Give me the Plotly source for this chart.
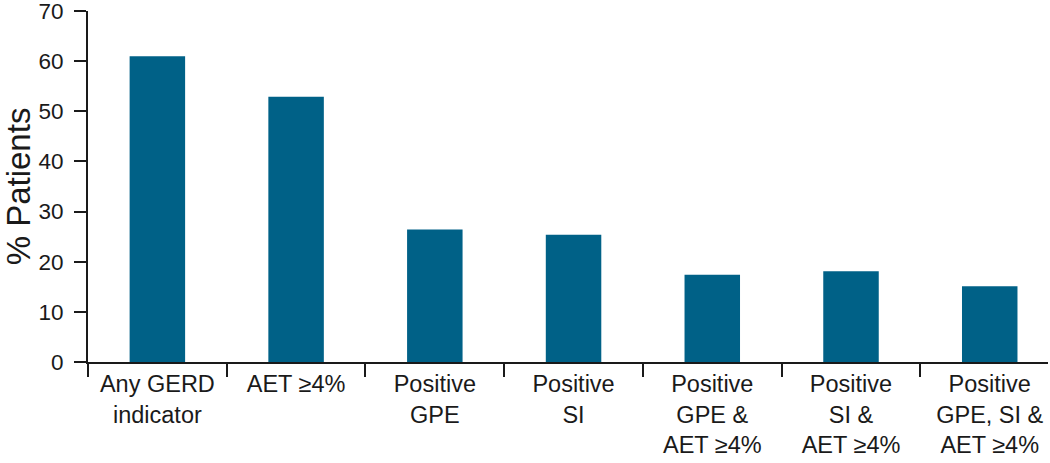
import plotly.graph_objects as go

categories = ["Any GERD<br>indicator", "AET ≥4%", "Positive<br>GPE", "Positive<br>SI",
              "Positive<br>GPE &<br>AET ≥4%", "Positive<br>SI &<br>AET ≥4%",
              "Positive<br>GPE, SI &<br>AET ≥4%"]
values = [61.0, 52.9, 26.4, 25.4, 17.4, 18.1, 15.1]
y_ticks = [0, 10, 20, 30, 40, 50, 60, 70]

fig = go.Figure(go.Bar(x=categories, y=values, width=0.4, marker_color="#006187",
                       marker_line_width=0))

fig.update_layout(
    width=1050, height=463,
    margin=dict(l=88, r=2, t=11, b=101, autoexpand=False),
    plot_bgcolor="white", paper_bgcolor="white",
    font=dict(family="Liberation Sans, Arial, sans-serif", size=23, color="#1a1a1a"),
    showlegend=False,
)
fig.update_xaxes(
    range=[-0.5, 6.42], showline=True, linecolor="#1a1a1a", linewidth=2,
    ticks="outside", tickson="boundaries", ticklen=13, tickwidth=2, tickcolor="#1a1a1a",
    showgrid=False, tickfont=dict(size=23.5), automargin=False, ticklabeloverflow="allow",
)
fig.update_yaxes(
    range=[0, 70], tickvals=y_ticks, showline=True, linecolor="#1a1a1a", linewidth=2,
    ticks="outside", ticklen=12, tickwidth=2, tickcolor="#1a1a1a", showgrid=False,
    zeroline=False, tickfont=dict(size=22.5), automargin=False,
    ticklabeloverflow="allow", ticklabelstandoff=6,
    title=dict(text="% Patients", font=dict(size=33), standoff=14),
)
fig.write_html("out.html", config={"displayModeBar": False},
               post_script="document.body.style.margin='0';document.body.style.padding='0';")
